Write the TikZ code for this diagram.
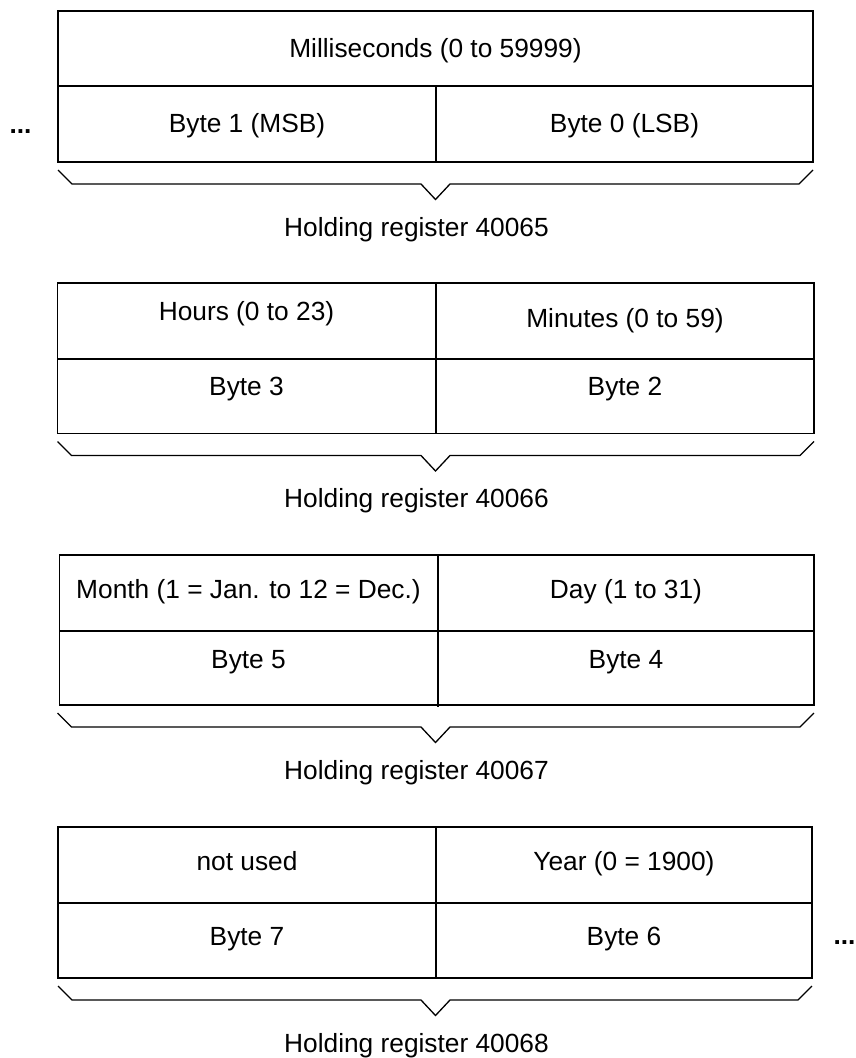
\documentclass[tikz,border=0pt]{standalone}
\usepackage{fontspec}
\setmainfont{Liberation Sans}
\tikzset{
  boxline/.style={line width=1.9pt, line join=miter},
  braceline/.style={line width=1.3pt, line join=miter},
  celltext/.style={anchor=base, inner sep=0pt, font=\fontsize{26.3}{30}\selectfont},
  dotstext/.style={anchor=base, inner sep=0pt, font=\fontsize{26.3}{30}\selectfont\bfseries},
}
\newcommand{\regbrace}[3]{% left, right, bottom
  \draw[braceline] (#1,#3+8) -- (#1+14,#3+22) -- (421,#3+22) -- (435.5,#3+37.5)
    -- (450,#3+22) -- (#2-14,#3+22) -- (#2,#3+8);}
\begin{document}
\begin{tikzpicture}[x=1pt,y=-1pt]
\path[use as bounding box] (0,0) rectangle (855,1058);

% ---------- Block 1 ----------
\draw[boxline] (58,11) rectangle (813,162);
\draw[boxline] (58,86) -- (813,86);
\draw[boxline] (436,86) -- (436,162);
\node[celltext] (ms) at (435.5,57) {Milliseconds (0 to 59999)};
\node[celltext] (b1) at (247,132) {Byte 1 (MSB)};
\node[celltext] (b0) at (624.5,132) {Byte 0 (LSB)};
\node[dotstext] (dl) at (20.5,133) {...};
\regbrace{58}{813}{162}
\node[celltext] (r65) at (416.5,236) {Holding register 40065};

% ---------- Block 2 ----------
\draw[boxline] (57.5,283) rectangle (814,433.5);
\draw[boxline] (57.5,359) -- (814,359);
\draw[boxline] (436,283) -- (436,433.5);
\node[celltext] (hr) at (246.5,320) {Hours (0 to 23)};
\node[celltext] (mi) at (625,327) {Minutes (0 to 59)};
\node[celltext] (b3) at (246.5,395) {Byte 3};
\node[celltext] (b2) at (625,395) {Byte 2};
\regbrace{57.5}{814}{433.5}
\node[celltext] (r66) at (416.5,507) {Holding register 40066};

% ---------- Block 3 ----------
\draw[boxline] (59.5,555) rectangle (814,705);
\draw[boxline] (59.5,631) -- (814,631);
\draw[boxline] (438,555) -- (438,707);
\node[celltext] (mo) at (248.5,598) {Month (1 = Jan. to 12 = Dec.)};
\node[celltext] (dy) at (626,598) {Day (1 to 31)};
\node[celltext] (b5) at (248.5,668) {Byte 5};
\node[celltext] (b4) at (626,668) {Byte 4};
\regbrace{57.5}{814}{705}
\node[celltext] (r67) at (416.5,779) {Holding register 40067};

% ---------- Block 4 ----------
\draw[boxline] (58,827) rectangle (812,978);
\draw[boxline] (58,903) -- (812,903);
\draw[boxline] (436,827) -- (436,978);
\node[celltext] (nu) at (247,870) {not used};
\node[celltext] (yr) at (624,870) {Year (0 = 1900)};
\node[celltext] (b7) at (247,945) {Byte 7};
\node[celltext] (b6) at (624,945) {Byte 6};
\node[dotstext] (dr) at (844.5,944) {...};
\regbrace{58}{812}{978}
\node[celltext] (r68) at (416.5,1052) {Holding register 40068};
\end{tikzpicture}
\end{document}
